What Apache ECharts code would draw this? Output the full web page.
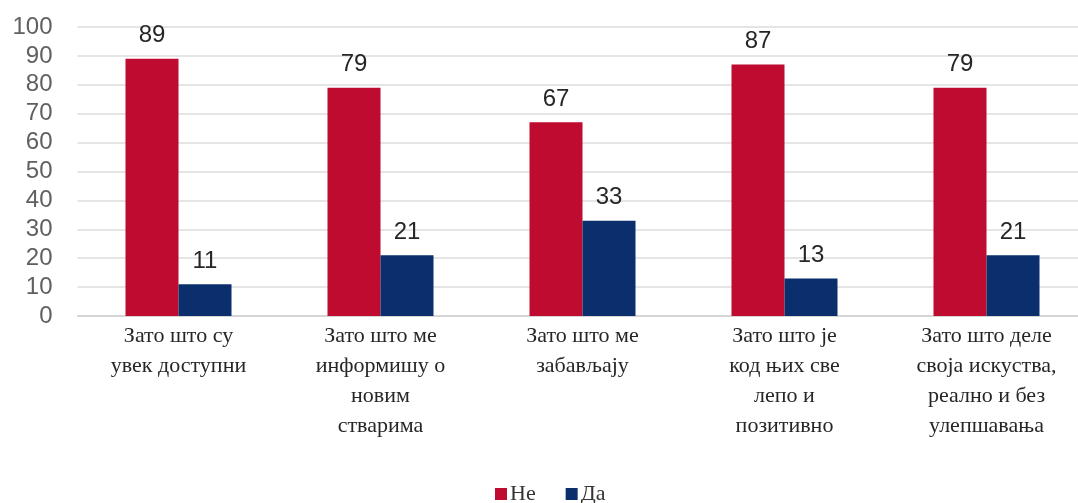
<!DOCTYPE html>
<html>
<head>
<meta charset="utf-8">
<script src="https://cdn.jsdelivr.net/npm/echarts@6/dist/echarts.min.js"></script>
<style>
  html, body { margin: 0; padding: 0; background: #ffffff; overflow: hidden; }
  /* plot area runs slightly past the right edge of the window */
  #chart { width: 1090px; height: 503px; }
</style>
</head>
<body>
<div id="chart"></div>
<script>
// Reasons (category labels, with manual line breaks)
const categories = [
  'Зато што су\nувек доступни',
  'Зато што ме\nинформишу о\nновим\nстварима',
  'Зато што ме\nзабављају',
  'Зато што је\nкод њих све\nлепо и\nпозитивно',
  'Зато што деле\nсвоја искуства,\nреално и без\nулепшавања'
];
const seriesNames = ['Не', 'Да'];
const valuesNe = [89, 79, 67, 87, 79];
const valuesDa = [11, 21, 33, 13, 21];
const yTicks = { min: 0, max: 100, interval: 10 };

const RED = '#be0b2f';
const BLUE = '#0b2e6c';

const chart = echarts.init(document.getElementById('chart'), null, { renderer: 'canvas' });

const labelStyle = {
  show: true,
  position: 'top',
  distance: 11,
  fontFamily: 'Liberation Sans, Arial, sans-serif',
  fontSize: 24,
  color: '#262626'
};

chart.setOption({
  animation: false,
  backgroundColor: '#ffffff',
  grid: { left: 77.5, top: 27, width: 1010, height: 289, containLabel: false },
  legend: {
    top: 483,
    left: 495,
    padding: 0,
    itemWidth: 12,
    itemHeight: 12,
    itemGap: 30,
    icon: 'rect',
    textStyle: { fontFamily: 'Liberation Serif, Times New Roman, serif', fontSize: 22, color: '#333333', padding: [0, 0, 0, -2] },
    data: seriesNames
  },
  xAxis: {
    type: 'category',
    data: categories,
    axisTick: { show: false },
    axisLine: { show: true, lineStyle: { color: '#d0d0d0', width: 1.5 } },
    axisLabel: {
      interval: 0,
      margin: 5,
      fontFamily: 'Liberation Serif, Times New Roman, serif',
      fontSize: 22,
      lineHeight: 30,
      color: '#262626',
      align: 'center'
    }
  },
  yAxis: {
    type: 'value',
    min: yTicks.min,
    max: yTicks.max,
    interval: yTicks.interval,
    axisLine: { show: false },
    axisTick: { show: false },
    splitLine: { lineStyle: { color: '#dcdcdc', width: 1.5 } },
    axisLabel: {
      margin: 25,
      fontFamily: 'Liberation Sans, Arial, sans-serif',
      fontSize: 24,
      color: '#606060'
    }
  },
  series: [
    {
      name: seriesNames[0],
      type: 'bar',
      data: valuesNe,
      barWidth: 53,
      barGap: '0%',
      itemStyle: { color: RED },
      label: labelStyle
    },
    {
      name: seriesNames[1],
      type: 'bar',
      data: valuesDa,
      barWidth: 53,
      barGap: '0%',
      itemStyle: { color: BLUE },
      label: labelStyle
    }
  ]
});
</script>
</body>
</html>
